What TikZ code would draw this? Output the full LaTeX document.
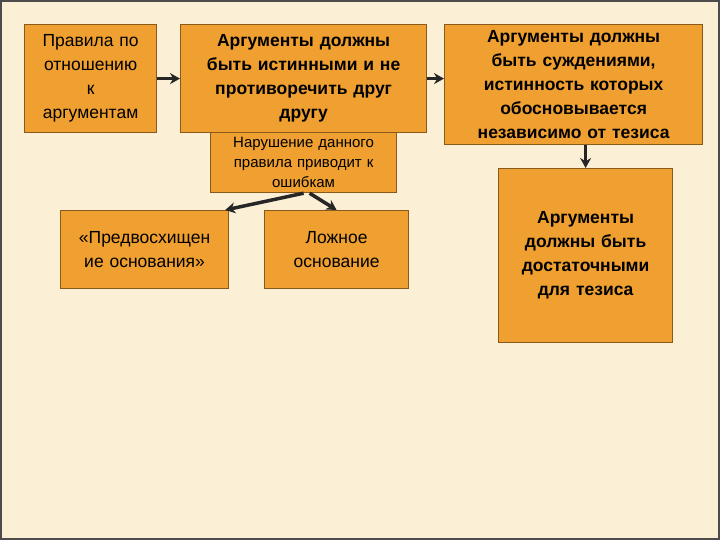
\documentclass[tikz,border=0pt]{standalone}
\usepackage{fontspec}
\setmainfont{Liberation Sans}
\usetikzlibrary{arrows.meta}
\definecolor{bg}{HTML}{FBF0D6}
\definecolor{box}{HTML}{EFA030}
\definecolor{bd}{HTML}{8A5A1A}
\begin{document}
\begin{tikzpicture}[x=1pt,y=-1pt,
  bx/.style={draw=bd,line width=1.2pt,fill=box,inner sep=0pt,align=center,anchor=north west,font=\fontsize{17.5}{24}\selectfont},
  bb/.style={bx,font=\fontsize{17.5}{24}\selectfont\bfseries},
  ar/.style={-{Stealth[length=10pt,width=11pt]},line width=3.5pt,draw=black!85}]
\fill[bg] (0,0) rectangle (720,540);
\draw[black!70,line width=1.5pt] (1,1) rectangle (719,539);
\node[bx,minimum width=132pt,minimum height=108pt,text width=130pt] (a) at (24,24) {Правила по\\ отношению\\ к\\ аргументам};
\node[bb,minimum width=246pt,minimum height=108pt,text width=244pt] (b) at (180,24) {Аргументы должны\\ быть истинными и не\\ противоречить друг\\ другу};
\node[bx,minimum width=186pt,minimum height=60pt,text width=184pt,font=\fontsize{15}{20}\selectfont] (c) at (210,132) {Нарушение данного\\ правила приводит к\\ ошибкам};
\node[bx,minimum width=168pt,minimum height=78pt,text width=166pt] (d) at (60,210) {«Предвосхищен\\ ие основания»};
\node[bx,minimum width=144pt,minimum height=78pt,text width=142pt] (e) at (264,210) {Ложное\\ основание};
\node[bb,minimum width=258pt,minimum height=120pt,text width=256pt] (f) at (444,24) {Аргументы должны\\ быть суждениями,\\ истинность которых\\ обосновывается\\ независимо от тезиса};
\node[bb,minimum width=174pt,minimum height=174pt,text width=172pt] (g) at (498,168) {Аргументы\\ должны быть\\ достаточными\\ для тезиса};
\draw[ar] (a.east) -- (b.west);
\draw[ar] (b.east) -- (b.east -| f.west);
\draw[ar] (f.south -| g.north) -- (g.north);
\draw[ar] ([xshift=0pt]c.south) -- ([xshift=-4pt]d.north east);
\draw[ar] ([xshift=6pt]c.south) -- ([xshift=0pt]e.north);
\end{tikzpicture}
\end{document}
